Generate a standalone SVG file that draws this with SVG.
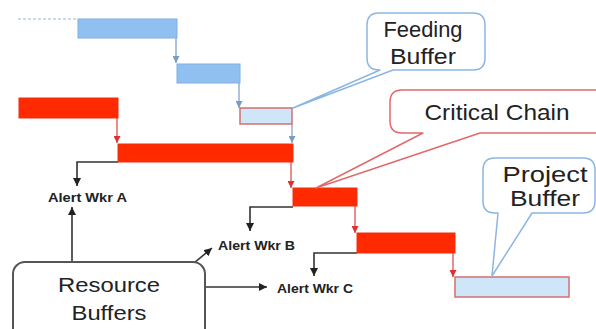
<svg xmlns="http://www.w3.org/2000/svg" width="596" height="329" viewBox="0 0 596 329">
<style>
.bar{fill:#8fc0f0;stroke:#7eb0e2;stroke-width:1}
.crit{fill:#ff2a00;stroke:#f03010;stroke-width:1}
.buf{fill:#cfe5f8;stroke:#d07070;stroke-width:1.5}
.blk{fill:none;stroke:#333;stroke-width:1.6}
.red{fill:none;stroke:#e04040;stroke-width:1.2}
.blu{fill:none;stroke:#7a9cc0;stroke-width:1.2}
.cb{fill:#fff;stroke:#8cb6e2;stroke-width:1.5;stroke-linejoin:round}
.cr{fill:#fff;stroke:#e06a6a;stroke-width:1.5;stroke-linejoin:round}
.big{font-family:"Liberation Sans",Arial,sans-serif;fill:#222;text-anchor:middle}
.al{font-family:"Liberation Sans",Arial,sans-serif;font-weight:bold;font-size:12px;fill:#222}
</style>
<defs>
<marker id="ab" viewBox="0 0 10 10" refX="10" refY="5" markerWidth="8" markerHeight="8" markerUnits="userSpaceOnUse" orient="auto"><path d="M0,0L10,5L0,10z" fill="#222"/></marker>
<marker id="ar" viewBox="0 0 10 10" refX="10" refY="5" markerWidth="7" markerHeight="7" markerUnits="userSpaceOnUse" orient="auto"><path d="M0,0L10,5L0,10z" fill="#e03030"/></marker>
<marker id="au" viewBox="0 0 10 10" refX="10" refY="5" markerWidth="7" markerHeight="7" markerUnits="userSpaceOnUse" orient="auto"><path d="M0,0L10,5L0,10z" fill="#7a9cc0"/></marker>
</defs>
<rect width="596" height="329" fill="#fff"/>

<g id="connectors">
<line x1="18" y1="19" x2="78" y2="19" stroke="#9ab8d8" stroke-width="1.2" stroke-dasharray="3,2"/>
<path class="blu" d="M176,38V63" marker-end="url(#au)"/>
<path class="blu" d="M239,83V108" marker-end="url(#au)"/>
<path class="blu" d="M292,124V143" marker-end="url(#au)"/>
<path class="red" d="M117,118V143" marker-end="url(#ar)"/>
<path class="red" d="M291,162V188" marker-end="url(#ar)"/>
<path class="red" d="M355,206V233" marker-end="url(#ar)"/>
<path class="red" d="M453,253V277" marker-end="url(#ar)"/>
<path class="blk" d="M118,162H77V186" marker-end="url(#ab)"/>
<path class="blk" d="M293,207H250V231" marker-end="url(#ab)"/>
<path class="blk" d="M357,253H314V276" marker-end="url(#ab)"/>
<path class="blk" d="M72,262V207" marker-end="url(#ab)"/>
<path class="blk" d="M188,268L212,248" marker-end="url(#ab)"/>
<path class="blk" d="M205,287H267" marker-end="url(#ab)"/>
</g>

<g id="task-feed1"><rect class="bar" x="78" y="19" width="99" height="19"/></g>
<g id="task-feed2"><rect class="bar" x="177" y="64" width="63" height="19"/></g>
<g id="feeding-buffer-bar"><rect class="buf" x="240" y="108" width="52" height="16"/></g>
<g id="task-crit1"><rect class="crit" x="19" y="98" width="99" height="20"/></g>
<g id="task-crit2"><rect class="crit" x="118" y="144" width="175" height="18"/></g>
<g id="task-crit3"><rect class="crit" x="293" y="188" width="64" height="18"/></g>
<g id="task-crit4"><rect class="crit" x="357" y="233" width="98" height="20"/></g>
<g id="project-buffer-bar"><rect class="buf" x="455" y="277" width="114" height="20"/></g>

<g id="alert-a"><text class="al" x="48" y="202" textLength="79" lengthAdjust="spacingAndGlyphs">Alert Wkr A</text></g>
<g id="alert-b"><text class="al" x="218" y="250" textLength="77" lengthAdjust="spacingAndGlyphs">Alert Wkr B</text></g>
<g id="alert-c"><text class="al" x="277" y="293" textLength="76" lengthAdjust="spacingAndGlyphs">Alert Wkr C</text></g>

<g id="callout-feeding">
<path class="cb" d="M379,13H473Q485,13 485,25V58Q485,70 473,70H393L293,108L380,70H379Q367,70 367,58V25Q367,13 379,13Z"/>
<text class="big" x="423" y="37" font-size="22" textLength="79" lengthAdjust="spacingAndGlyphs">Feeding</text>
<text class="big" x="423" y="64" font-size="22" textLength="66" lengthAdjust="spacingAndGlyphs">Buffer</text>
</g>

<g id="callout-critical">
<path class="cr" d="M402,90H610V133H480L316,188L423,133H402Q390,133 390,121V102Q390,90 402,90Z"/>
<text class="big" x="497" y="120" font-size="22" textLength="145" lengthAdjust="spacingAndGlyphs">Critical Chain</text>
</g>

<g id="callout-project">
<path class="cb" d="M495,158H583Q595,158 595,170V201Q595,213 583,213H532L492,276L498,213H495Q483,213 483,201V170Q483,158 495,158Z"/>
<text class="big" x="545" y="182" font-size="22" textLength="85" lengthAdjust="spacingAndGlyphs">Project</text>
<text class="big" x="545" y="206" font-size="22" textLength="70" lengthAdjust="spacingAndGlyphs">Buffer</text>
</g>

<g id="resource-buffers">
<rect x="13" y="262" width="192" height="90" rx="12" fill="#fff" stroke="#555" stroke-width="2"/>
<text class="big" x="109" y="292" font-size="21" textLength="102" lengthAdjust="spacingAndGlyphs">Resource</text>
<text class="big" x="109" y="320" font-size="21" textLength="75" lengthAdjust="spacingAndGlyphs">Buffers</text>
</g>
</svg>
